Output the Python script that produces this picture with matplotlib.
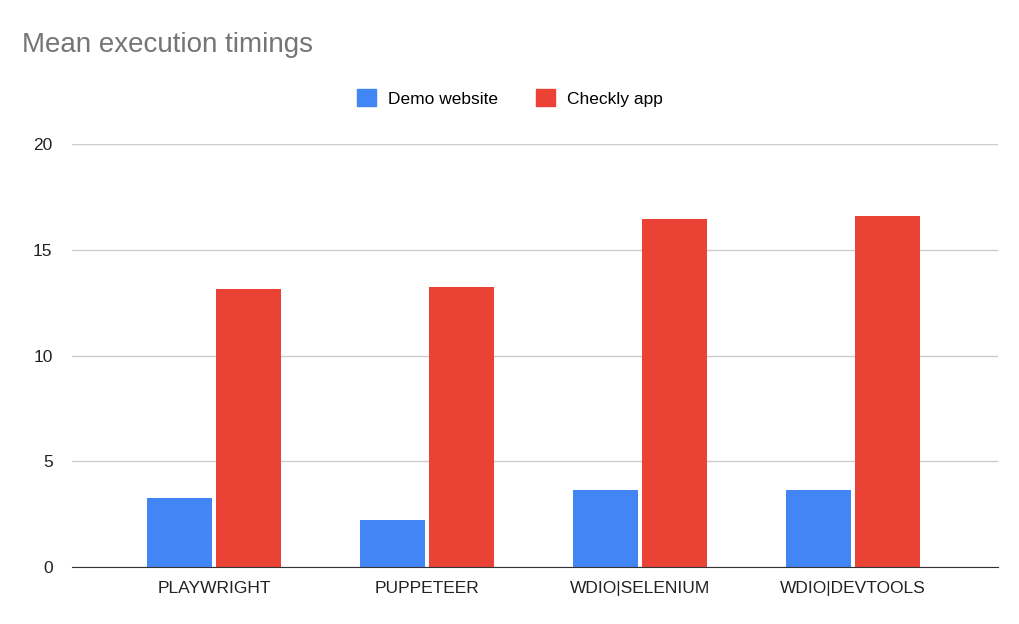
import matplotlib
matplotlib.use("Agg")
import matplotlib.pyplot as plt
import matplotlib.patches as mpatches
import numpy as np

plt.rcParams["font.family"] = ["Liberation Sans", "DejaVu Sans"]

BLUE = "#4285F4"
RED = "#EA4335"

categories = ["PLAYWRIGHT", "PUPPETEER", "WDIO|SELENIUM", "WDIO|DEVTOOLS"]
demo_website = [3.26, 2.24, 3.65, 3.65]
checkly_app = [13.15, 13.25, 16.45, 16.6]

fig = plt.figure(figsize=(10.2, 6.24), dpi=100)
ax = fig.add_axes([0.0706, 0.0913, 0.9074, 0.6777])

x = np.arange(len(categories))
w = 0.305
ax.bar(x - 0.163, demo_website, w, color=BLUE, zorder=3)
ax.bar(x + 0.163, checkly_app, w, color=RED, zorder=3)

ax.set_xlim(-0.667, 3.68)
ax.set_ylim(0, 20)
ax.set_yticks([0, 5, 10, 15, 20])
ax.set_xticks(x)
ax.set_xticklabels(categories, fontsize=12.5, color="#222222")
ax.tick_params(axis="y", labelsize=12.5, colors="#222222", length=0, pad=14)
ax.tick_params(axis="x", length=0, pad=10)
ax.grid(axis="y", color="#cccccc", linewidth=1, zorder=0)
for s in ["top", "right", "left"]:
    ax.spines[s].set_visible(False)
ax.spines["bottom"].set_color("#333333")
ax.spines["bottom"].set_zorder(4)

fig.text(0.0216, 0.928, "Mean execution timings", fontsize=20, color="#757575",
         ha="left", va="center")

handles = [mpatches.Patch(color=BLUE, label="Demo website"),
           mpatches.Patch(color=RED, label="Checkly app")]
fig.legend(handles=handles, loc="center", bbox_to_anchor=(0.5, 0.843), ncol=2,
           frameon=False, fontsize=12.5, handlelength=1.1, handleheight=1.1,
           columnspacing=2.2, handletextpad=0.7)

fig.savefig("out.png", dpi=100, facecolor="white")
